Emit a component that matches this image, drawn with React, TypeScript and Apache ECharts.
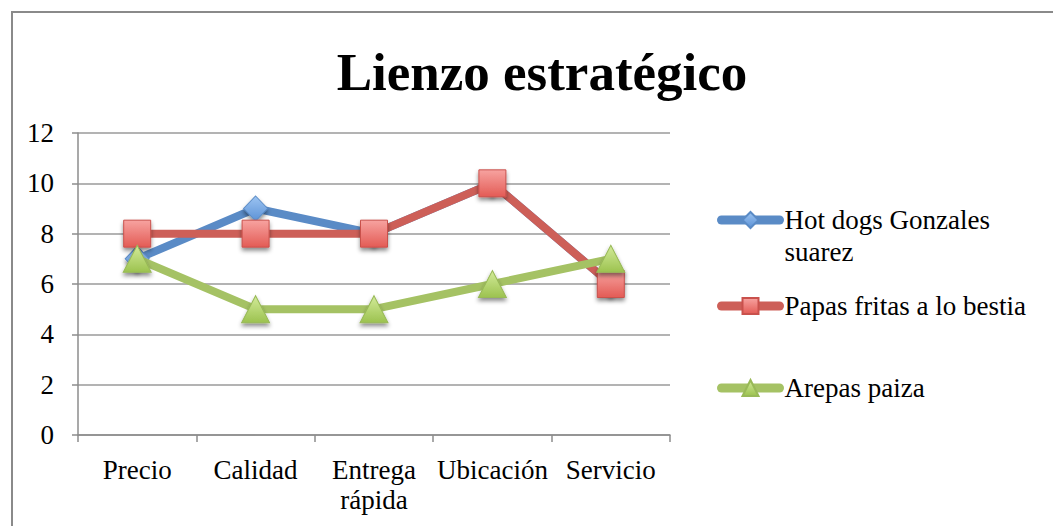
import React, { useEffect, useRef } from "react";
import * as echarts from "echarts";

const categories = ["Precio", "Calidad", "Entrega rápida", "Ubicación", "Servicio"];
const hotDogs = [7, 9, 8, 10, 6];
const papas = [8, 8, 8, 10, 6];
const arepas = [7, 5, 5, 6, 7];
const seriesNames = ["Hot dogs Gonzales suarez", "Papas fritas a lo bestia", "Arepas paiza"];
const yTicks = { min: 0, max: 12, interval: 2 };

const FONT = "'Liberation Serif', 'DejaVu Serif', serif";

const grad = (top: string, bottom: string) =>
  new echarts.graphic.LinearGradient(0, 0, 0, 1, [
    { offset: 0, color: top },
    { offset: 1, color: bottom },
  ]);

export default function App() {
  const ref = useRef<HTMLDivElement>(null);
  useEffect(() => {
    if (!ref.current) return;
    const chart = echarts.init(ref.current, undefined, { renderer: "svg" });
    const shadow = { shadowBlur: 4, shadowOffsetY: 3, shadowColor: "rgba(0,0,0,0.45)" };
    const legendText = { fontFamily: FONT, fontSize: 27, color: "#000", lineHeight: 32 };
    const legendBase = {
      orient: "vertical",
      left: 712,
      itemWidth: 58,
      itemHeight: 20,
      lineStyle: { width: 9, cap: "round" },
    };
    chart.setOption({
      animation: false,
      backgroundColor: "#fff",
      title: {
        text: "Lienzo estratégico",
        left: 537,
        textAlign: "center",
        top: 40,
        textStyle: { fontFamily: FONT, fontSize: 53, fontWeight: "bold", color: "#000" },
      },
      graphic: [
        {
          type: "rect",
          shape: { x: 12, y: 12, width: 1100, height: 600 },
          style: { fill: "none", stroke: "#8a8a8a", lineWidth: 2 },
          silent: true,
          z: -1,
        },
      ],
      legend: [
        {
          ...legendBase,
          data: [seriesNames[0]],
          top: 167,
          formatter: () => " \nHot dogs Gonzales\nsuarez",
          textStyle: legendText,
        },
        {
          ...legendBase,
          data: [seriesNames[1]],
          top: 285,
          textStyle: legendText,
        },
        {
          ...legendBase,
          data: [seriesNames[2]],
          top: 367,
          textStyle: legendText,
        },
      ],
      grid: { left: 78, right: 383, top: 133, bottom: 91, containLabel: false },
      xAxis: {
        type: "category",
        data: categories,
        boundaryGap: true,
        axisLine: { lineStyle: { color: "#8c8c8c", width: 1.5 } },
        axisTick: { show: true, length: 7, lineStyle: { color: "#8c8c8c", width: 1.5 } },
        axisLabel: {
          fontFamily: FONT,
          fontSize: 27,
          color: "#000",
          lineHeight: 30,
          margin: 20,
          interval: 0,
          formatter: (v: string) => (v === "Entrega rápida" ? "Entrega\nrápida" : v),
        },
      },
      yAxis: {
        type: "value",
        min: yTicks.min,
        max: yTicks.max,
        interval: yTicks.interval,
        axisLine: { show: true, lineStyle: { color: "#8c8c8c", width: 1.5 } },
        axisTick: { show: true, length: 6, lineStyle: { color: "#8c8c8c", width: 1.5 } },
        splitLine: { lineStyle: { color: "#9a9a9a", width: 1.5 } },
        axisLabel: { fontFamily: FONT, fontSize: 27, color: "#000", margin: 24 },
      },
      series: [
        {
          name: seriesNames[0],
          type: "line",
          data: hotDogs,
          symbol: "diamond",
          symbolSize: [24, 25],
          lineStyle: { color: "#5a8bc6", width: 8, cap: "round", join: "round" },
          itemStyle: { color: grad("#9cc4f2", "#5c92d6"), borderColor: "#5a8bc6", borderWidth: 1, ...shadow },
          z: 2,
        },
        {
          name: seriesNames[1],
          type: "line",
          data: papas,
          symbol: "rect",
          symbolSize: 27,
          lineStyle: { color: "#cd5f58", width: 8, cap: "round", join: "round" },
          itemStyle: { color: grad("#f7a3a0", "#e35b55"), borderColor: "#c9514c", borderWidth: 1, ...shadow },
          z: 3,
        },
        {
          name: seriesNames[2],
          type: "line",
          data: arepas,
          symbol: "triangle",
          symbolSize: [28, 27],
          lineStyle: { color: "#a5c264", width: 8, cap: "round", join: "round" },
          itemStyle: { color: grad("#d3eb9a", "#9cc24f"), borderColor: "#98b957", borderWidth: 1, ...shadow },
          z: 4,
        },
      ],
    });
    return () => chart.dispose();
  }, []);
  return (
    <div
      ref={ref}
      style={{ position: "fixed", left: 0, top: 0, width: 1053, height: 526 }}
    />
  );
}
